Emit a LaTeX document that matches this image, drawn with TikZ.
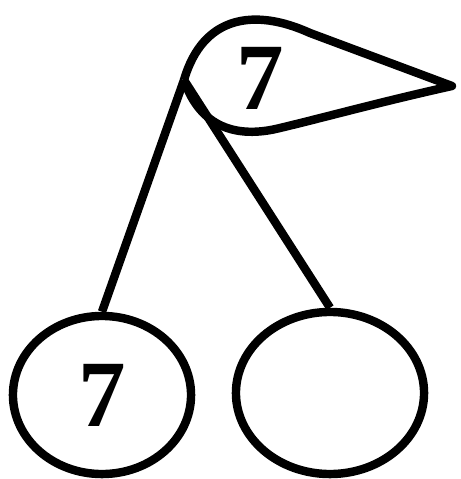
\documentclass[tikz,border=0pt]{standalone}
\usepackage{fontspec}
\setmainfont{Liberation Serif}
\usetikzlibrary{shapes.geometric}

\begin{document}
\begin{tikzpicture}[x=0.01cm, y=-0.01cm, line width=2.4pt, every node/.style={font=\fontsize{27}{30}\selectfont\bfseries}]
  \useasboundingbox (0,0) rectangle (461,479);
  % top leaf
  \coordinate (cusp) at (184,80);
  \draw[line join=round] (cusp) .. controls (203,15) and (255,8) .. (310,33) -- (452,86) .. controls (380,102) and (330,116) .. (280,128) .. controls (236,139) and (200,127) .. (cusp);
  \node[inner sep=0pt] (top) at (260,78) {7};
  % two children
  \node[draw, ellipse, inner sep=0pt, minimum width=1.78cm, minimum height=1.58cm] (left) at (102,395) {7};
  \node[draw, ellipse, inner sep=0pt, minimum width=1.88cm, minimum height=1.62cm] (right) at (330,393) {};
  \draw (cusp) -- (left.north);
  \draw (cusp) -- (right.north);
\end{tikzpicture}
\end{document}
